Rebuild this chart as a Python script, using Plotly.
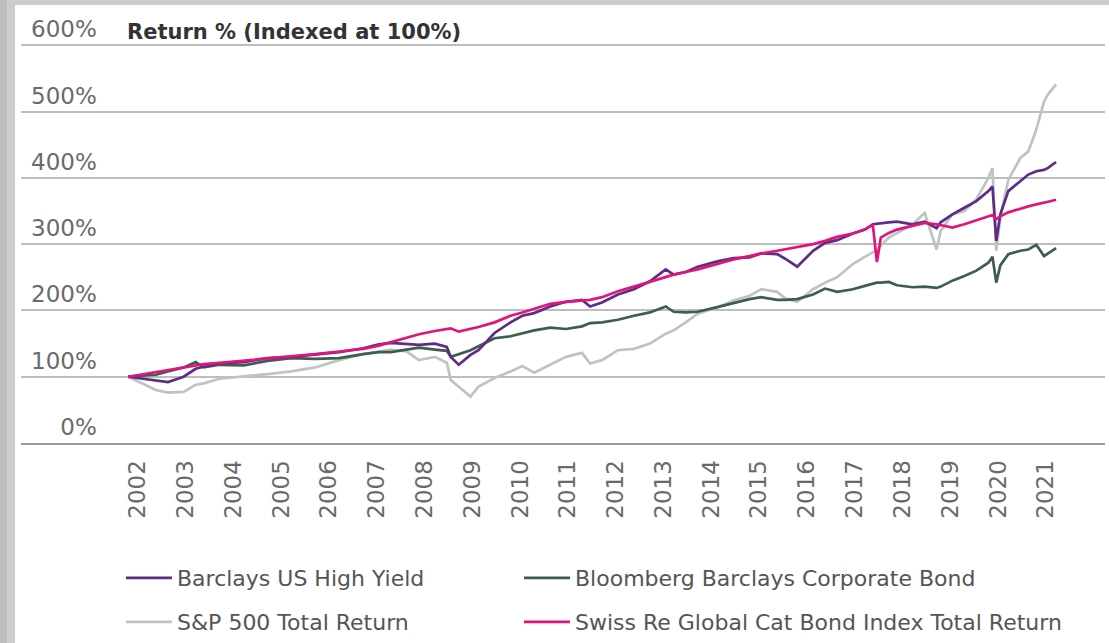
import plotly.graph_objects as go

# ---------------- data ----------------
dates = ["2002-01","2002-08","2002-11","2003-03","2003-06","2003-08","2003-12","2004-06","2004-12",
         "2005-06","2005-12","2006-06","2006-12","2007-04","2007-07","2007-11","2008-02","2008-06",
         "2008-09","2008-10","2008-12","2009-03","2009-05","2009-09","2010-01","2010-04","2010-07",
         "2010-11","2011-03","2011-07","2011-09","2011-12","2012-04","2012-08","2012-12","2013-04",
         "2013-06","2013-09","2013-12","2014-05","2014-09","2015-01","2015-04","2015-08","2015-10",
         "2016-01","2016-05","2016-08","2016-11","2017-03","2017-06","2017-08","2017-09","2017-10",
         "2017-12","2018-02","2018-06","2018-09","2018-12","2019-01","2019-04","2019-07","2019-10",
         "2020-01","2020-02","2020-03","2020-04","2020-06","2020-09","2020-11","2021-01","2021-03",
         "2021-04","2021-06"]

high_yield = [100, 94, 92, 100, 112, 115, 120, 122, 128, 130, 133, 137, 143, 149, 151, 149,
              148, 150, 145, 130, 118, 133, 140, 166, 182, 192, 196, 206, 213, 216, 206, 212,
              224, 232, 244, 262, 254, 258, 266, 274, 279, 280, 286, 285, 278, 266, 290, 302,
              306, 316, 322, 330, 331, 332, 333, 334, 330, 334, 324, 333, 345, 355, 365, 380,
              387, 305, 345, 380, 395, 405, 410, 412, 415, 424]

corp_bond = [100, 103, 108, 114, 122, 114, 118, 117, 124, 128, 127, 128, 134, 137, 137, 141,
             144, 141, 139, 130, 134, 140, 146, 158, 161, 165, 170, 174, 172, 176, 181, 182,
             186, 192, 197, 206, 198, 197, 198, 205, 211, 217, 220, 216, 216, 217, 224, 233,
             228, 232, 237, 241, 242, 242, 243, 238, 235, 236, 234, 236, 245, 252, 260, 272,
             281, 242, 268, 285, 290, 292, 299, 282, 286, 294]

sp500 = [100, 80, 76, 77, 88, 90, 97, 100, 104, 108, 114, 125, 134, 138, 141, 138,
         125, 130, 121, 95, 85, 70, 85, 98, 108, 116, 106, 118, 130, 136, 120, 125,
         140, 142, 150, 165, 170, 182, 195, 205, 215, 222, 232, 228, 218, 213, 232, 242,
         250, 270, 281, 288, 290, 298, 310, 317, 330, 347, 292, 320, 345, 350, 368, 400,
         415, 290, 340, 397, 430, 440, 473, 515, 526, 541]

cat_bond = [100, 107, 110, 114, 117, 119, 121, 124, 127, 130, 134, 138, 142, 147, 152, 158,
            164, 169, 172, 173, 168, 172, 175, 182, 192, 197, 203, 210, 213, 215, 216, 220,
            229, 236, 243, 250, 254, 258, 262, 270, 277, 282, 286, 290, 292, 296, 300, 305,
            311, 316, 322, 329, 273, 310, 317, 322, 328, 332, 330, 329, 325, 330, 336, 342,
            344, 338, 342, 348, 354, 357, 360, 362, 364, 367]

years = list(range(2002, 2022))
y_ticks = [0, 100, 200, 300, 400, 500, 600]
y_tick_text = ["\u2007\u20070%", "100%", "200%", "300%", "400%", "500%", "600%"]

# ---------------- figure ----------------
FONT = "DejaVu Sans"
W, H = 1109, 643
ml, mr, mt, mb = 21, 4, 44, 200
pw, ph = W - ml - mr, H - mt - mb

fig = go.Figure()

# (name, values, colour, legend id, legend x pixel, legend row y pixel)
series = [
    ("S&P 500 Total Return", sp500, "#bcc5c0", "legend3", 121, 622),
    ("Bloomberg Barclays Corporate Bond", corp_bond, "#3e5c51", "legend2", 519, 578),
    ("Barclays US High Yield", high_yield, "#5e2c86", "legend", 121, 578),
    ("Swiss Re Global Cat Bond Index Total Return", cat_bond, "#e0147b", "legend4", 519, 622),
]
legend_layouts = {}
for name, vals, color, leg, lx, ly in series:
    fig.add_trace(go.Scatter(
        x=dates, y=vals, name=name, mode="lines",
        line=dict(color=color, width=2.7),
        legend=leg, hoverinfo="skip",
    ))
    legend_layouts[leg] = dict(
        orientation="h", x=(lx - ml) / pw, xanchor="left",
        y=(H - mb - ly) / ph, yanchor="middle",
        font=dict(family=FONT, size=22, color="#555555"),
        bgcolor="rgba(0,0,0,0)", itemwidth=46,
    )

fig.update_layout(
    width=W, height=H,
    margin=dict(l=ml, r=mr, t=mt, b=mb, pad=0, autoexpand=False),
    paper_bgcolor="#cdcdcd",
    plot_bgcolor="white",
    font=dict(family=FONT, color="#666666", size=22),
    title=dict(text="<b>Return % (Indexed at 100%)</b>", x=127 / W, xanchor="left",
               y=1 - 32 / H, yanchor="middle",
               font=dict(family=FONT, size=21, color="#333333")),
    xaxis=dict(
        type="date",
        automargin=False,
        range=["1999-10-05", "2022-06-10"],
        tickvals=[f"{y}-03-15" for y in years],
        ticktext=[str(y) for y in years],
        tickangle=-90,
        ticks="",
        ticklabelstandoff=6,
        showgrid=False,
        showline=True, linecolor="#9a9a9a", linewidth=2,
        tickfont=dict(family=FONT, size=23, color="#6a6a6a"),
        zeroline=False,
    ),
    yaxis=dict(
        automargin=False,
        range=[0, 602],
        tickvals=y_ticks,
        ticktext=y_tick_text,
        ticklabelposition="inside top",
        ticklabeloverflow="allow",
        ticklabelstandoff=7,
        ticks="",
        showgrid=True, gridcolor="#bdbdbd", gridwidth=1.5,
        zeroline=False,
        showline=False,
        tickfont=dict(family=FONT, size=23, color="#6a6a6a"),
    ),
    showlegend=True,
    **legend_layouts,
)

# white card background (gray frame visible on left and top edges)
fig.add_shape(type="rect", xref="paper", yref="paper", layer="below",
              x0=(15 - ml) / pw, x1=(W - ml) / pw,
              y0=-(mb + 5) / ph, y1=1 + (mt - 5) / ph,
              line=dict(width=0), fillcolor="white")
fig.add_shape(type="rect", xref="paper", yref="paper", layer="below",
              x0=(0 - ml) / pw, x1=(7 - ml) / pw,
              y0=-(mb + 5) / ph, y1=1 + (mt + 5) / ph,
              line=dict(width=0), fillcolor="#bdbdbd")

fig.write_html("out.html",
               config={"displayModeBar": False},
               post_script="document.body.style.margin='0';document.body.style.overflow='hidden';")
